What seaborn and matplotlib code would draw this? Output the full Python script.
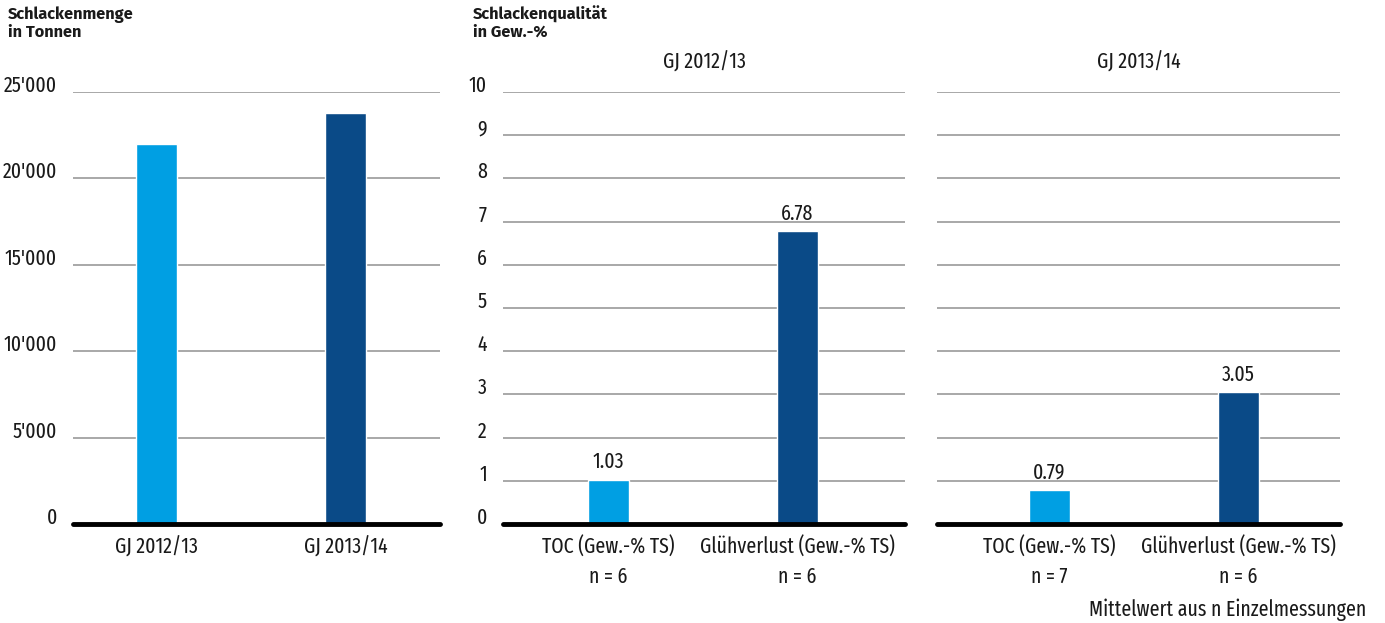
import matplotlib
matplotlib.use("Agg")
import matplotlib.pyplot as plt
import seaborn as sns
import pandas as pd

# Slag quantity per fiscal year (tonnes)
years = ["GJ 2012/13", "GJ 2013/14"]
slag_tonnes = [22000, 23800]

# Slag quality (mean of n single measurements, weight-% dry matter)
quality_params = ["TOC (Gew.-% TS)", "Glühverlust (Gew.-% TS)"]
quality_2012 = [1.03, 6.78]
quality_2013 = [0.79, 3.05]
n_2012 = [6, 6]
n_2013 = [7, 6]

qty_ticks = [0, 5000, 10000, 15000, 20000, 25000]
qty_ticklabels = ["0", "5'000", "10'000", "15'000", "20'000", "25'000"]
pct_ticks = list(range(0, 11))

LIGHT = "#009FE3"
DARK = "#0A4A87"
GRID = "#a8a8a8"
INK = "#1a1a1a"

sns.set_theme(style="white")
plt.rcParams["font.family"] = ["Fira Sans Extra Condensed", "Roboto Condensed",
                               "DejaVu Sans"]

W, H = 1385, 623
fig = plt.figure(figsize=(W / 100, H / 100), dpi=100)


def rect(x0, y_top, x1, y_bot):
    return [x0 / W, 1 - y_bot / H, (x1 - x0) / W, (y_bot - y_top) / H]


ax1 = fig.add_axes(rect(73, 92, 440, 524))
ax2 = fig.add_axes(rect(503, 92, 905, 524))
ax3 = fig.add_axes(rect(937, 92, 1340, 524))

TICK_FS = 15.5
BAR_W = 0.217


def style_axis(ax, ticks, labels, ylim, show_labels=True):
    ax.set_ylim(*ylim)
    ax.set_yticks(ticks)
    for t in ticks[1:]:
        ax.axhline(t, color=GRID, lw=1.4, zorder=0)
    ax.axhline(0, color="black", lw=3.5, zorder=3, clip_on=False)
    for s in ax.spines.values():
        s.set_visible(False)
    ax.tick_params(axis="both", length=0, colors=INK)
    if show_labels:
        ax.set_yticklabels(labels, fontsize=TICK_FS)
        for lab in ax.get_yticklabels():
            lab.set_verticalalignment("baseline")
        ax.tick_params(axis="y", pad=11.5)
    else:
        ax.set_yticklabels([])
    ax.set_xlabel("")
    ax.set_ylabel("")


# Left panel: slag quantity
df_qty = pd.DataFrame({"Jahr": years, "Menge": slag_tonnes})
sns.barplot(data=df_qty, x="Jahr", y="Menge", hue="Jahr",
            palette=[LIGHT, DARK], width=BAR_W, legend=False, ax=ax1,
            saturation=1)
style_axis(ax1, qty_ticks, qty_ticklabels, (0, 25000))
ax1.set_xlim(-0.442, 1.5)
ax1.tick_params(axis="x", labelsize=TICK_FS, pad=9)


def quality_panel(ax, values, ns, title, show_labels):
    labels = [f"{p}\nn = {n}" for p, n in zip(quality_params, ns)]
    df = pd.DataFrame({"Parameter": labels, "Wert": values})
    sns.barplot(data=df, x="Parameter", y="Wert", hue="Parameter",
                palette=[LIGHT, DARK], width=BAR_W, legend=False, ax=ax,
                saturation=1)
    style_axis(ax, pct_ticks, [str(t) for t in pct_ticks], (0, 10),
               show_labels)
    for cont in ax.containers:
        ax.bar_label(cont, fmt="%.2f", padding=5, fontsize=TICK_FS,
                     color=INK)
    ax.tick_params(axis="x", labelsize=TICK_FS, pad=9)
    for lab in ax.get_xticklabels():
        lab.set_linespacing(1.45)
    ax.text(0.5, 1.0 + 19 / 432, title, transform=ax.transAxes,
            ha="center", va="bottom", fontsize=TICK_FS, color=INK)


quality_panel(ax2, quality_2012, n_2012, "GJ 2012/13", True)
ax2.set_xlim(-0.558, 1.569)
quality_panel(ax3, quality_2013, n_2013, "GJ 2013/14", False)
ax3.set_xlim(-0.595, 1.537)

# Panel headings
head_font = dict(fontsize=11.8, fontweight="bold",
                 family=["Fira Sans", "Open Sans", "DejaVu Sans"],
                 va="top", ha="left", color=INK)
fig.text(8 / W, 1 - 6 / H, "Schlackenmenge\nin Tonnen", linespacing=1.1,
         **head_font)
fig.text(473 / W, 1 - 6 / H, "Schlackenqualität\nin Gew.-%", linespacing=1.1,
         **head_font)

fig.text(1366 / W, 1 - 621 / H, "Mittelwert aus n Einzelmessungen",
         ha="right", va="bottom", fontsize=TICK_FS, color=INK)

fig.savefig("out.png", dpi=100, facecolor="white")
